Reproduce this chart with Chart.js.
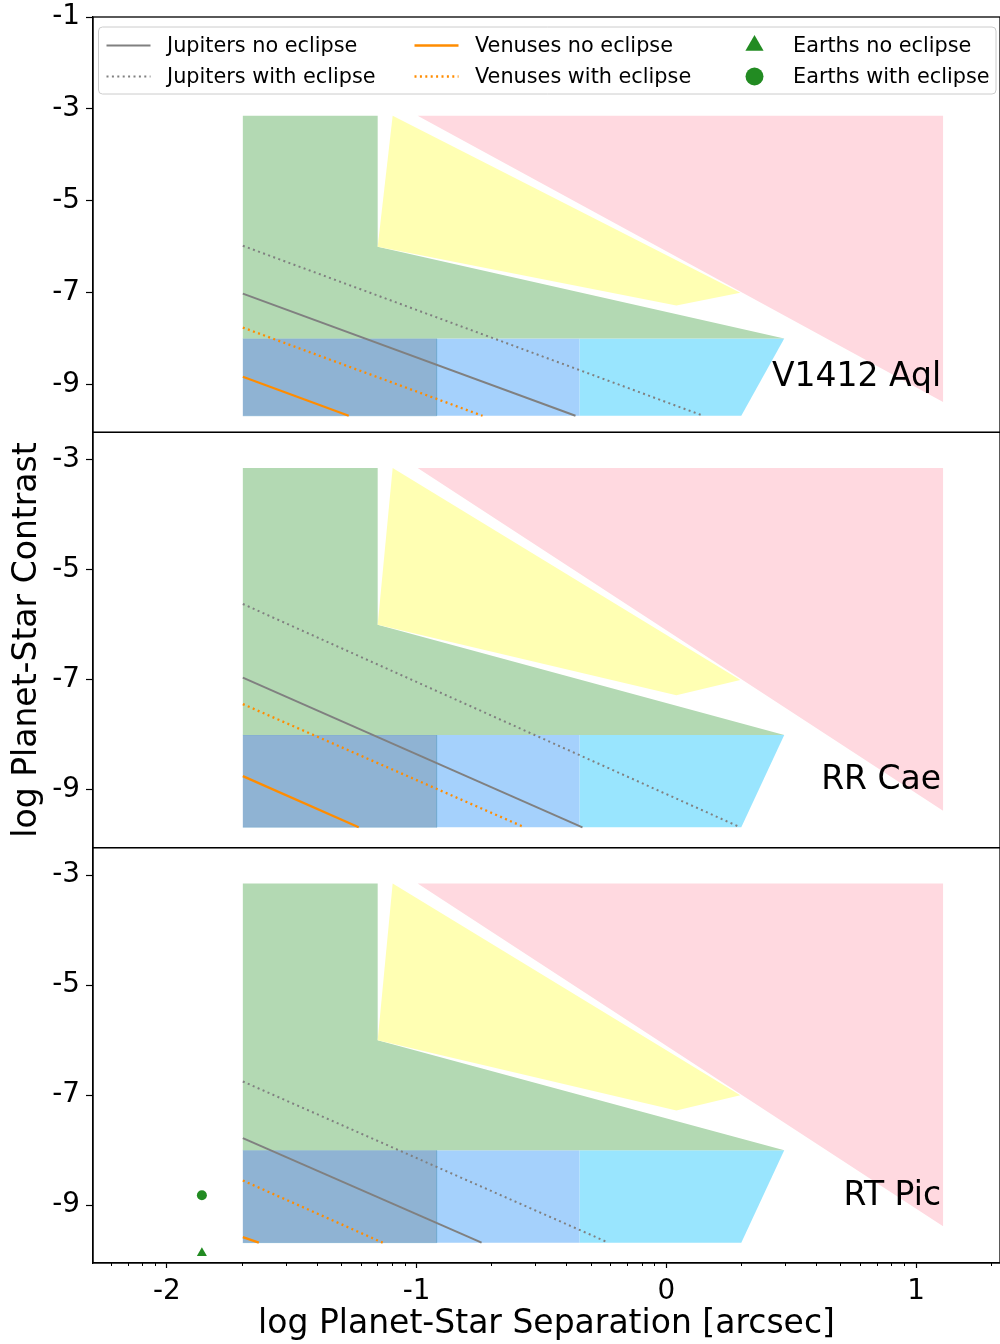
<!DOCTYPE html>
<html>
<head>
<meta charset="utf-8">
<script src="https://cdn.jsdelivr.net/npm/chart.js@4.4.0/dist/chart.umd.min.js"></script>
<style>
  html, body { margin: 0; padding: 0; background: #fff; }
  #wrap { width: 1000px; height: 1344px; }
</style>
</head>
<body>
<div id="wrap"><canvas id="chart" width="1000" height="1344"></canvas></div>
<script>
// ---- data (log units) ----
const panelNames = ['V1412 Aql', 'RR Cae', 'RT Pic'];
const panelYMin = [-10.04, -10.05, -10.05];
const panelYMax = [-1.0, -2.5, -2.5];
const panelYTicks = [[-9, -7, -5, -3, -1], [-9, -7, -5, -3], [-9, -7, -5, -3]];
const xTickValues = [-2, -1, 0, 1];
const xMin = -2.296;
const xMax = 1.336;

// detection regions (identical in every panel)
const pinkX   = [-0.996, 1.108, 1.108];
const pinkY   = [-3.15, -3.15, -9.38];
const yellowX = [-1.096, 0.296, 0.04, -1.156];
const yellowY = [-3.15, -7.0, -7.28, -6.0];
const greenX  = [-1.696, -1.156, -1.156, 0.472, -1.696];
const greenY  = [-3.15, -3.15, -6.0, -8.0, -8.0];
const bandDarkX  = [-1.696, -0.92, -0.92, -1.696];
const bandLightX = [-0.92, -0.348, -0.348, -0.92];
const bandCyanX  = [-0.348, 0.472, 0.30, -0.348];
const bandY      = [-8.0, -8.0, -9.68, -9.68];

// planet tracks: start at lineStartX, end at lineEndY (one value per panel)
const lineStartX = -1.696;
const lineEndY = -9.68;
const jupNoStartY  = [-7.02, -6.96, -7.78];
const jupNoEndX    = [-0.364, -0.336, -0.74];
const jupEclStartY = [-5.98, -5.62, -6.75];
const jupEclEndX   = [0.148, 0.296, -0.232];
const venNoStartY  = [-8.83, -8.75, -9.58];
const venNoEndX    = [-1.272, -1.232, -1.632];
const venEclStartY = [-7.76, -7.44, -8.55];
const venEclEndX   = [-0.736, -0.568, -1.136];

// earths (only RT Pic)
const earthPanel = 2;
const earthX = [-1.86];
const earthNoY = [-9.87];
const earthEclY = [-8.82];

// ---- styles ----
const GRAY = '#808080';
const ORANGE = '#ff8c00';
const FGREEN = '#228b22';
const DOTS = [2, 3.4];
const FONT = 'DejaVu Sans';

Chart.defaults.font.family = FONT;
Chart.defaults.color = '#000';

const yIds = ['y1', 'y2', 'y3'];

function pts(xs, ys) {
  return xs.map((x, i) => ({ x, y: ys[i] }));
}

function region(xs, ys, color, yAxisID, edge) {
  return {
    data: pts(xs, ys), yAxisID, showLine: true, fill: 'shape',
    backgroundColor: color, borderColor: edge || 'rgba(0,0,0,0)', borderWidth: edge ? 0.8 : 0,
    pointRadius: 0, order: 10
  };
}

function track(x0, y0, x1, y1, color, width, dash, yAxisID, legendLabel) {
  return {
    data: [{ x: x0, y: y0 }, { x: x1, y: y1 }], yAxisID, showLine: true, fill: false,
    borderColor: color, borderWidth: width, borderDash: dash, pointRadius: 0,
    order: 1, legendLabel
  };
}

const datasets = [];
yIds.forEach((id, p) => {
  datasets.push(region(pinkX, pinkY, '#ffd9e0', id));
  datasets.push(region(yellowX, yellowY, '#ffffb3', id));
  datasets.push(region(greenX, greenY, '#b3d9b3', id));
  datasets.push(region(bandDarkX, bandY, '#8fb3d3', id, 'rgba(100,160,200,0.5)'));
  datasets.push(region(bandLightX, bandY, '#a5d1fc', id));
  datasets.push(region(bandCyanX, bandY, '#99e5fe', id));
  const first = p === 0;
  datasets.push(track(lineStartX, jupNoStartY[p], jupNoEndX[p], lineEndY, GRAY, 2, [], id, first ? 'Jupiters no eclipse' : null));
  datasets.push(track(lineStartX, jupEclStartY[p], jupEclEndX[p], lineEndY, GRAY, 2, DOTS, id, first ? 'Jupiters with eclipse' : null));
  datasets.push(track(lineStartX, venNoStartY[p], venNoEndX[p], lineEndY, ORANGE, 2.3, [], id, first ? 'Venuses no eclipse' : null));
  datasets.push(track(lineStartX, venEclStartY[p], venEclEndX[p], lineEndY, ORANGE, 2.3, DOTS, id, first ? 'Venuses with eclipse' : null));
});
datasets.push({
  data: pts(earthX, earthNoY), yAxisID: yIds[earthPanel], pointStyle: 'triangle',
  pointRadius: 5.8, backgroundColor: FGREEN, borderWidth: 0, order: 0,
  legendLabel: 'Earths no eclipse', legendRadius: 10.5
});
datasets.push({
  data: pts(earthX, earthEclY), yAxisID: yIds[earthPanel], pointStyle: 'circle',
  pointRadius: 5, backgroundColor: FGREEN, borderWidth: 0, order: 0,
  legendLabel: 'Earths with eclipse', legendRadius: 9
});

// log-spaced minor tick positions on the log-separation axis
const minorTicks = [];
for (let n = -3; n <= 1; n++) {
  for (let k = 2; k <= 9; k++) {
    const v = n + Math.log10(k);
    if (v > xMin && v < xMax) minorTicks.push(v);
  }
}

const yScales = {};
yIds.forEach((id, p) => {
  yScales[id] = {
    type: 'linear', position: 'left', stack: 'panels', stackWeight: 1, weight: 3 - p,
    min: panelYMin[p], max: panelYMax[p],
    afterBuildTicks: s => { s.ticks = panelYTicks[p].map(v => ({ value: v })); },
    afterFit: s => { s.width = 93; s.paddingTop = 0; s.paddingBottom = 0; },
    ticks: { font: { size: 27.8 }, padding: 6, color: '#000', callback: v => String(v) },
    grid: { drawOnChartArea: false, tickLength: 7, tickColor: '#000', tickWidth: 1.2 },
    border: { display: true, color: '#000', width: 1.3 },
    title: {
      display: p === 1, text: 'log Planet-Star Contrast', color: '#000',
      font: { size: 33 }, padding: { top: 8, bottom: 0 }
    }
  };
});

// frame lines around each panel
const framePlugin = {
  id: 'frames',
  afterDatasetsDraw(chart) {
    const ctx = chart.ctx;
    const a = chart.chartArea;
    ctx.save();
    ctx.strokeStyle = '#000';
    ctx.lineWidth = 1.3;
    yIds.forEach(id => {
      const s = chart.scales[id];
      ctx.strokeRect(a.left, s.top, a.right - a.left, s.bottom - s.top);
    });
    ctx.restore();
  }
};

// star names in each panel
const namePlugin = {
  id: 'panelNames',
  afterDatasetsDraw(chart) {
    const ctx = chart.ctx;
    const xs = chart.scales.x;
    ctx.save();
    ctx.font = '33px "' + FONT + '"';
    ctx.fillStyle = '#000';
    ctx.textAlign = 'right';
    ctx.textBaseline = 'alphabetic';
    yIds.forEach((id, p) => {
      const ys = chart.scales[id];
      ctx.fillText(panelNames[p], xs.getPixelForValue(1.1), ys.getPixelForValue(-8.77) + 12);
    });
    ctx.restore();
  }
};

// matplotlib-like legend box, 3 columns x 2 rows
const legendPlugin = {
  id: 'boxLegend',
  afterDraw(chart) {
    const ctx = chart.ctx;
    const a = chart.chartArea;
    const items = chart.data.datasets.filter(d => d.legendLabel);
    const bx = a.left + 5.5, by = a.top + 10, bw = a.right - a.left - 9.5, bh = 67;
    ctx.save();
    ctx.beginPath();
    ctx.roundRect(bx, by, bw, bh, 4);
    ctx.fillStyle = 'rgba(255,255,255,0.8)';
    ctx.fill();
    ctx.strokeStyle = '#cccccc';
    ctx.lineWidth = 1;
    ctx.stroke();
    const colX = [8, 316, 634];
    const rowY = [18.5, 49.5];
    ctx.font = '20.8px "' + FONT + '"';
    ctx.textBaseline = 'middle';
    ctx.textAlign = 'left';
    items.forEach((d, i) => {
      const hx = bx + colX[Math.floor(i / 2)];
      const hy = by + rowY[i % 2];
      if (d.showLine) {
        ctx.beginPath();
        ctx.setLineDash(d.borderDash || []);
        ctx.strokeStyle = d.borderColor;
        ctx.lineWidth = d.borderWidth;
        ctx.moveTo(hx, hy);
        ctx.lineTo(hx + 44, hy);
        ctx.stroke();
        ctx.setLineDash([]);
      } else {
        ctx.fillStyle = d.backgroundColor;
        Chart.helpers.drawPoint(ctx, { pointStyle: d.pointStyle, radius: d.legendRadius, rotation: 0, borderWidth: 0 }, hx + 22, hy);
      }
      ctx.fillStyle = '#000';
      ctx.fillText(d.legendLabel, hx + 60.5, hy + 1.5);
    });
    ctx.restore();
  }
};

new Chart(document.getElementById('chart'), {
  type: 'scatter',
  data: { datasets },
  options: {
    responsive: false,
    animation: false,
    devicePixelRatio: 1,
    events: [],
    layout: { autoPadding: false, padding: { top: 17, right: 0, left: 0, bottom: 0 } },
    plugins: { legend: { display: false }, tooltip: { enabled: false } },
    scales: {
      xMinor: {
        type: 'linear', position: 'bottom', weight: 0, min: xMin, max: xMax,
        afterBuildTicks: s => { s.ticks = minorTicks.map(v => ({ value: v })); },
        afterFit: s => { s.height = 0; s.paddingLeft = 0; s.paddingRight = 0; },
        ticks: { display: false, autoSkip: false },
        grid: { drawOnChartArea: false, tickLength: 3, tickColor: '#000', tickWidth: 1 },
        border: { display: false }
      },
      x: {
        type: 'linear', position: 'bottom', weight: 1, min: xMin, max: xMax,
        afterBuildTicks: s => { s.ticks = xTickValues.map(v => ({ value: v })); },
        afterFit: s => { s.height = 81; s.paddingLeft = 0; s.paddingRight = 0; },
        ticks: { font: { size: 27.8 }, padding: 7, color: '#000', autoSkip: false, maxRotation: 0, callback: v => String(v) },
        grid: { drawOnChartArea: false, tickLength: 5, tickColor: '#000', tickWidth: 1.2 },
        border: { display: true, color: '#000', width: 1.3 },
        title: {
          display: true, text: 'log Planet-Star Separation [arcsec]', color: '#000',
          font: { size: 33 }, padding: { top: 0, bottom: 0 }
        }
      },
      ...yScales
    }
  },
  plugins: [framePlugin, namePlugin, legendPlugin]
});
</script>
</body>
</html>
